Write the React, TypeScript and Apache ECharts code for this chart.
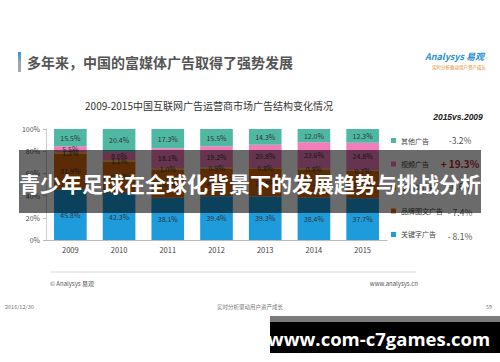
import React, { useEffect, useRef } from "react";
import * as echarts from "echarts";

const years = ["2009", "2010", "2011", "2012", "2013", "2014", "2015"];
const keyword = [45.8, 42.3, 38.1, 39.4, 39.3, 38.4, 37.7];
const brand = [31.9, 28.2, 25.5, 25.0, 24.8, 25.2, 24.5];
const richMedia = [1.3, 1.1, 1.0, 0.9, 0.8, 0.8, 0.7];
const video = [5.5, 8.0, 18.1, 19.2, 20.8, 23.6, 24.8];
const other = [15.5, 20.4, 17.3, 15.5, 14.3, 12.0, 12.3];
const seriesNames = ["关键字广告", "品牌图文广告", "富媒体广告", "视频广告", "其他广告"];
const legendOrder = ["其他广告", "视频广告", "富媒体广告", "品牌图文广告", "关键字广告"];
const changes = ["-3.2%", "+ 19.3%", "-0.6%", "- 7.4%", "- 8.1%"];
const yTicks = ["0%", "20%", "40%", "60%", "80%", "100%"];

const colors: Record<string, string> = {
  "关键字广告": "#1E9BDB",
  "品牌图文广告": "#D9680F",
  "富媒体广告": "#E8B400",
  "视频广告": "#F27DBA",
  "其他广告": "#4FB8A3",
};

export default function App() {
  const ref = useRef<HTMLDivElement>(null);
  useEffect(() => {
    if (!ref.current) return;
    const chart = echarts.init(ref.current, undefined, { renderer: "svg" });
    const dataSets = [keyword, brand, richMedia, video, other];
    const font = "'Noto Sans CJK SC', 'Noto Sans', sans-serif";
    const series = seriesNames.map((name, i) => ({
      name,
      type: "bar",
      stack: "total",
      barCategoryGap: "33%",
      data: dataSets[i],
      itemStyle: { color: colors[name] },
      label: {
        show: true,
        position: "inside",
        fontSize: 7,
        color: "#333",
        fontFamily: font,
        formatter: (p: any) => p.value.toFixed(1) + "%",
      },
    }));
    const valueY = [140, 163, 186, 212, 236];
    const graphics: any[] = [
      {
        type: "rect",
        shape: { x: 18, y: 52, width: 3, height: 20 },
        style: {
          fill: new echarts.graphic.LinearGradient(0, 0, 0, 1, [
            { offset: 0, color: "#1E9BDB" },
            { offset: 0.5, color: "#9aa4ad" },
            { offset: 1, color: "#aaaaaa" },
          ]),
        },
      },
      {
        type: "text",
        x: 27,
        y: 62,
        style: {
          text: "多年来，中国的富媒体广告取得了强势发展",
          fontSize: 14,
          fontWeight: "bold",
          fill: "#555",
          fontFamily: font,
          verticalAlign: "middle",
        },
      },
      {
        type: "text",
        x: 425,
        y: 56,
        style: {
          text: "Analysys 易观",
          fontSize: 9,
          fontStyle: "italic",
          fontWeight: "bold",
          fill: "#2A8FD2",
          fontFamily: font,
          verticalAlign: "middle",
        },
      },
      {
        type: "text",
        x: 486,
        y: 67,
        style: {
          text: "实时分析驱动用户资产成长",
          fontSize: 4.5,
          fill: "#E08A2A",
          fontFamily: font,
          align: "right",
          verticalAlign: "middle",
        },
      },
      {
        type: "text",
        x: 209,
        y: 105,
        style: {
          text: "2009-2015中国互联网广告运营商市场广告结构变化情况",
          fontSize: 10,
          fill: "#333",
          fontFamily: font,
          align: "center",
          verticalAlign: "middle",
        },
      },
      {
        type: "text",
        x: 458,
        y: 117,
        style: {
          text: "2015vs.2009",
          fontSize: 8.5,
          fontStyle: "italic",
          fontWeight: "bold",
          fill: "#222",
          fontFamily: "'Liberation Sans', sans-serif",
          align: "center",
          verticalAlign: "middle",
        },
      },
      ...changes.map((c, i) => ({
        type: "text",
        x: 460,
        y: valueY[i],
        style: {
          text: c,
          fontSize: i === 1 ? 10 : 8.5,
          fontWeight: i === 1 ? "bold" : "normal",
          fill: i === 1 ? "#C0282E" : "#555",
          fontFamily: font,
          align: "center",
          verticalAlign: "middle",
        },
      })),
      {
        type: "line",
        shape: { x1: 51, y1: 272, x2: 416, y2: 272 },
        style: { stroke: "#d6d6d6", lineWidth: 1 },
      },
      {
        type: "text",
        x: 50,
        y: 283,
        style: { text: "© Analysys 易观", fontSize: 6, fill: "#555", fontFamily: font, verticalAlign: "middle" },
      },
      {
        type: "text",
        x: 418,
        y: 283,
        style: { text: "www.analysys.cn", fontSize: 6, fill: "#555", fontFamily: font, align: "right", verticalAlign: "middle" },
      },
      {
        type: "text",
        x: 5,
        y: 307,
        style: { text: "2016/12/30", fontSize: 5.5, fill: "#777", fontFamily: font, verticalAlign: "middle" },
      },
      {
        type: "text",
        x: 250,
        y: 307,
        style: { text: "实时分析驱动用户资产成长", fontSize: 5.5, fill: "#777", fontFamily: font, align: "center", verticalAlign: "middle" },
      },
      {
        type: "text",
        x: 492,
        y: 307,
        style: { text: "59", fontSize: 5.5, fill: "#777", fontFamily: font, align: "right", verticalAlign: "middle" },
      },
      {
        type: "rect",
        z: 100,
        shape: { x: 19, y: 150, width: 462, height: 63 },
        style: { fill: "rgba(0,0,0,0.58)" },
      },
      {
        type: "text",
        z: 101,
        x: 250,
        y: 183,
        style: {
          text: "青少年足球在全球化背景下的发展趋势与挑战分析",
          fontSize: 21,
          fontWeight: "bold",
          fill: "#ffffff",
          fontFamily: font,
          align: "center",
          verticalAlign: "middle",
        },
      },
      {
        type: "rect",
        z: 100,
        shape: { x: 270, y: 316, width: 230, height: 37 },
        style: { fill: "#000" },
      },
      {
        type: "rect",
        z: 101,
        shape: { x: 270, y: 316, width: 230, height: 6 },
        style: { fill: "#7a7a7a" },
      },
      {
        type: "text",
        z: 102,
        x: 379,
        y: 338,
        style: {
          text: "www.com-c7games.com",
          fontSize: 18.5,
          fontWeight: "bold",
          fill: "#ffffff",
          fontFamily: "'Open Sans', sans-serif",
          align: "center",
          verticalAlign: "middle",
        },
      },
    ];
    chart.setOption({
      animation: false,
      backgroundColor: "#ffffff",
      grid: { left: 46, right: 113, top: 129, bottom: 122, containLabel: false },
      legend: {
        data: legendOrder,
        orient: "vertical",
        left: 386,
        top: 132,
        itemGap: 16.5,
        itemWidth: 5,
        itemHeight: 5,
        icon: "rect",
        textStyle: { fontSize: 7, color: "#444", fontFamily: font },
      },
      xAxis: {
        type: "category",
        data: years,
        axisLine: { show: true, lineStyle: { color: "#bbb" } },
        axisTick: { show: false },
        axisLabel: { fontSize: 7.5, color: "#444", margin: 6, fontFamily: font },
      },
      yAxis: {
        type: "value",
        min: 0,
        max: 100,
        interval: 20,
        splitLine: { show: false },
        axisLine: { show: true, lineStyle: { color: "#ccc" } },
        axisTick: { show: true, inside: false, length: 3, lineStyle: { color: "#bbb" } },
        axisLabel: {
          fontSize: 7,
          color: "#555",
          margin: 6,
          fontFamily: font,
          formatter: (v: number) => yTicks[Math.round(v / 20)],
        },
      },
      series,
      graphic: graphics,
    });
    return () => chart.dispose();
  }, []);
  return (
    <div
      ref={ref}
      style={{ position: "fixed", left: 0, top: 0, width: 500, height: 362, background: "#fff" }}
    />
  );
}
